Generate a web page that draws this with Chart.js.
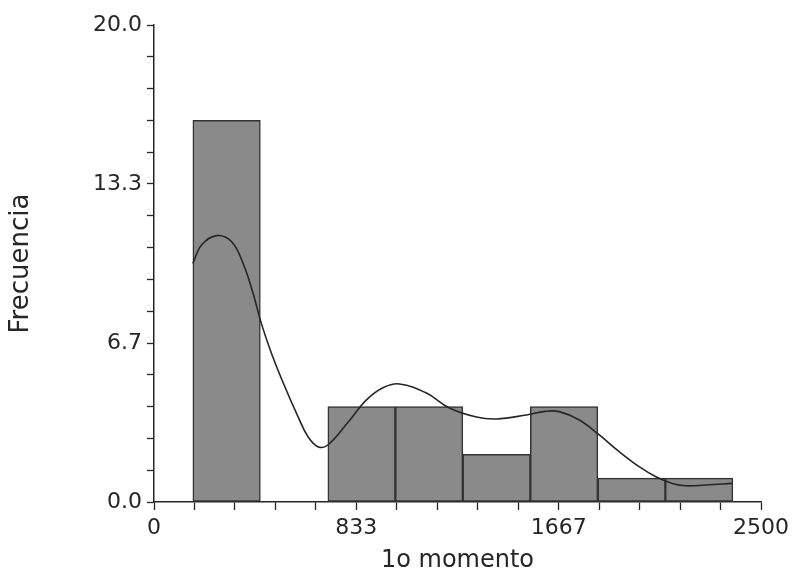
<!DOCTYPE html>
<html>
<head>
<meta charset="utf-8">
<script src="https://cdn.jsdelivr.net/npm/chart.js@4.4.0/dist/chart.umd.min.js"></script>
<style>
html,body{margin:0;padding:0;background:#fff;}
#wrap{width:794px;height:575px;}
</style>
</head>
<body>
<div id="wrap"><canvas id="c" width="794" height="575"></canvas></div>
<script>
// Histogram bins (lower / upper edges) and counts
const binLower = [160, 438, 716, 994, 1272, 1550, 1828, 2106];
const binUpper = [438, 716, 994, 1272, 1550, 1828, 2106, 2384];
const counts   = [16, 0, 4, 4, 2, 4, 1, 1];

// Smoothed density curve
const curveX = [160, 196, 258, 319, 367, 408, 442, 484, 539, 593, 634, 675, 716, 800, 875, 945, 1011, 1122, 1217, 1328, 1410, 1534, 1610, 1669, 1752, 1834, 1916, 1998, 2067, 2135, 2190, 2272, 2382];
const curveY = [10.0, 10.78, 11.17, 10.92, 10.0, 8.75, 7.49, 6.23, 4.83, 3.58, 2.74, 2.32, 2.39, 3.35, 4.28, 4.8, 4.95, 4.57, 3.94, 3.56, 3.48, 3.65, 3.8, 3.79, 3.44, 2.81, 2.11, 1.48, 1.06, 0.78, 0.68, 0.71, 0.78];

// Axis ticks
const xMax = 2500, yMax = 20, nTicks = 15, labelEvery = 5;
const xTitle = '1o momento';
const yTitle = 'Frecuencia';

const ink = '#262626';
const barData = binLower.map((lo, i) => ({x: (lo + binUpper[i]) / 2, y: counts[i]}));
const lineData = curveX.map((x, i) => ({x: x, y: curveY[i]}));

new Chart(document.getElementById('c'), {
  data: {
    datasets: [
      {
        type: 'line',
        data: lineData,
        borderColor: ink,
        borderWidth: 1.6,
        pointRadius: 0,
        tension: 0.4,
        fill: false,
        order: 0
      },
      {
        type: 'bar',
        data: barData,
        backgroundColor: '#8a8a8a',
        borderColor: '#333333',
        borderWidth: 1.5,
        borderSkipped: false,
        barThickness: 'flex',
        barPercentage: 1.0,
        categoryPercentage: 1.0,
        order: 1
      }
    ]
  },
  options: {
    responsive: false,
    animation: false,
    layout: {padding: {left: 0, right: 32, top: 25, bottom: 0}},
    plugins: {legend: {display: false}, tooltip: {enabled: false}},
    scales: {
      x: {
        type: 'linear',
        offset: false,
        min: 0, max: xMax,
        afterBuildTicks: s => { s.ticks = Array.from({length: nTicks + 1}, (_, i) => ({value: i * xMax / nTicks})); },
        afterFit: s => { s.height = 73; },
        grid: {drawOnChartArea: false, drawTicks: true, offset: false, tickLength: 8, tickColor: ink, tickWidth: 1.3},
        border: {display: true, color: ink, width: 1.5},
        ticks: {
          color: ink,
          padding: 5,
          maxRotation: 0,
          autoSkip: false,
          font: {family: 'DejaVu Sans', size: 22},
          callback: (v, i) => i % labelEvery === 0 ? String(Math.round(v)) : ''
        },
        title: {display: true, text: xTitle, color: ink, padding: {top: 0, bottom: 0}, font: {family: 'DejaVu Sans', size: 24}}
      },
      y: {
        type: 'linear',
        min: 0, max: yMax,
        afterBuildTicks: s => { s.ticks = Array.from({length: nTicks + 1}, (_, i) => ({value: i * yMax / nTicks})); },
        afterFit: s => { s.width = 154; },
        grid: {drawOnChartArea: false, drawTicks: true, tickLength: 7, tickColor: ink, tickWidth: 1.3},
        border: {display: true, color: ink, width: 1.5},
        ticks: {
          color: ink,
          padding: 5,
          autoSkip: false,
          font: {family: 'DejaVu Sans', size: 22},
          callback: (v, i) => i % labelEvery === 0 ? v.toFixed(1) : ''
        },
        title: {display: true, text: yTitle, color: ink, padding: {top: 6, bottom: 0}, font: {family: 'DejaVu Sans', size: 26}}
      }
    }
  }
});
</script>
</body>
</html>
